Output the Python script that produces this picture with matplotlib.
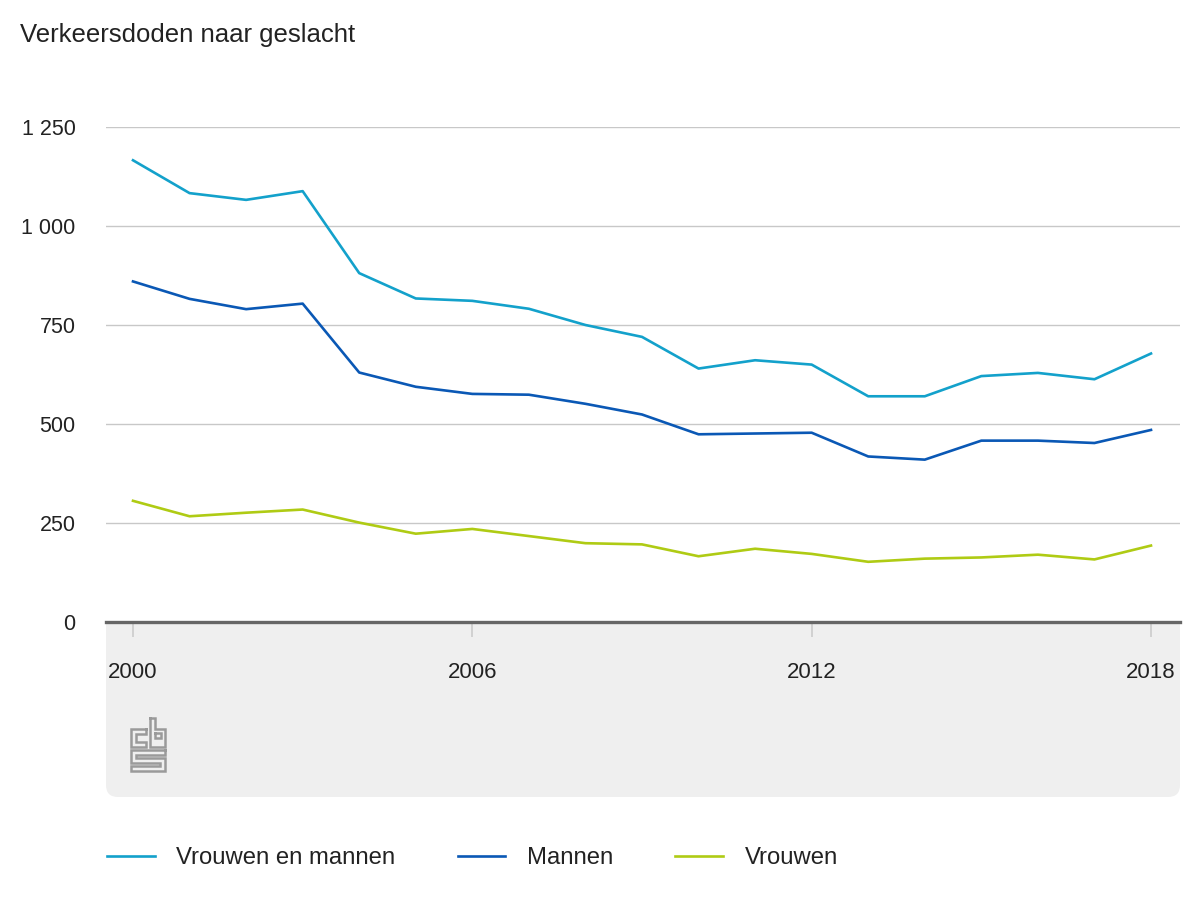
import matplotlib.pyplot as plt
from matplotlib.patches import FancyBboxPatch, Rectangle
from matplotlib.ticker import FuncFormatter

plt.rcParams['font.family'] = ['Liberation Sans', 'DejaVu Sans']

# data
years = list(range(2000, 2019))
totaal = [1166, 1083, 1066, 1088, 881, 817, 811, 791, 750, 720,
          640, 661, 650, 570, 570, 621, 629, 613, 678]
mannen = [860, 816, 790, 804, 630, 594, 576, 574, 551, 524,
          474, 476, 478, 418, 410, 458, 458, 452, 485]
vrouwen = [306, 267, 276, 284, 251, 223, 235, 217, 199, 196,
           166, 185, 172, 152, 160, 163, 170, 158, 193]
labels = ['Vrouwen en mannen', 'Mannen', 'Vrouwen']
colors = ['#13a1cb', '#0a58b5', '#afcb14']
y_ticks = [0, 250, 500, 750, 1000, 1250]
x_ticks = [2000, 2006, 2012, 2018]

W, H = 1200, 900
fig = plt.figure(figsize=(12, 9), dpi=100)

# background layer in pixel coordinates (panel + logo)
bg = fig.add_axes([0, 0, 1, 1], zorder=0)
bg.set_xlim(0, W)
bg.set_ylim(H, 0)
bg.axis('off')

panel = FancyBboxPatch((106, 622), 1074, 175, boxstyle='round,pad=0,rounding_size=12',
                       facecolor='#efefef', edgecolor='none')
bg.add_patch(panel)
bg.add_patch(Rectangle((106, 622), 1074, 60, facecolor='#efefef', edgecolor='none'))

# cbs logo, rough outline
logo_c = [(146, 729), (131, 729), (131, 747), (146, 747), (146, 742), (136, 742),
          (136, 734), (146, 734), (146, 729)]
logo_b = [(150, 718), (150, 747), (165, 747), (165, 729), (155, 729), (155, 718), (150, 718)]
logo_b_in = [(155, 733), (161, 733), (161, 738), (155, 738), (155, 733)]
logo_s = [(165, 750), (131, 750), (131, 763), (160, 763), (160, 766), (131, 766),
          (131, 771), (165, 771), (165, 758), (136, 758), (136, 755), (165, 755), (165, 750)]
for shape in [logo_c, logo_b, logo_b_in, logo_s]:
    xs = [p[0] for p in shape]
    ys = [p[1] for p in shape]
    bg.plot(xs, ys, color='#9a9a9a', lw=1.8, solid_joinstyle='miter')

# main chart
ax = fig.add_axes([106 / W, 1 - 622 / H, 1074 / W, 495 / H], zorder=1)
ax.patch.set_alpha(0)
for series, lab, col in zip([totaal, mannen, vrouwen], labels, colors):
    ax.plot(years, series, color=col, lw=1.9, label=lab, clip_on=False, zorder=3)

ax.set_xlim(2000 - 27 / 56.56, 2018 + 29 / 56.56)
ax.set_ylim(0, 1250)
ax.set_yticks(y_ticks)
ax.yaxis.set_major_formatter(FuncFormatter(lambda v, p: f'{int(v):,}'.replace(',', ' ')))
ax.set_xticks(x_ticks)
ax.grid(axis='y', color='#c8c8c8', lw=1.0)
ax.set_axisbelow(True)
for s in ax.spines.values():
    s.set_visible(False)
ax.axhline(0, color='#666666', lw=2.4, zorder=4, clip_on=False)
ax.tick_params(axis='y', length=0, pad=22, labelsize=15.5, labelcolor='#222222')
ax.tick_params(axis='x', length=11, width=1.2, color='#cccccc', pad=18,
               labelsize=16, labelcolor='#222222', direction='out')

fig.text(20 / W, 1 - 35 / H, 'Verkeersdoden naar geslacht', fontsize=18.5,
         color='#222222', va='center', ha='left')

fig.legend(loc='center left', bbox_to_anchor=(107 / W, 1 - 858 / H), ncol=3,
           frameon=False, fontsize=17.2, handlelength=2.0, handletextpad=0.9,
           columnspacing=2.6, borderpad=0, borderaxespad=0, labelcolor='#222222')

fig.savefig('out.png', dpi=100)
